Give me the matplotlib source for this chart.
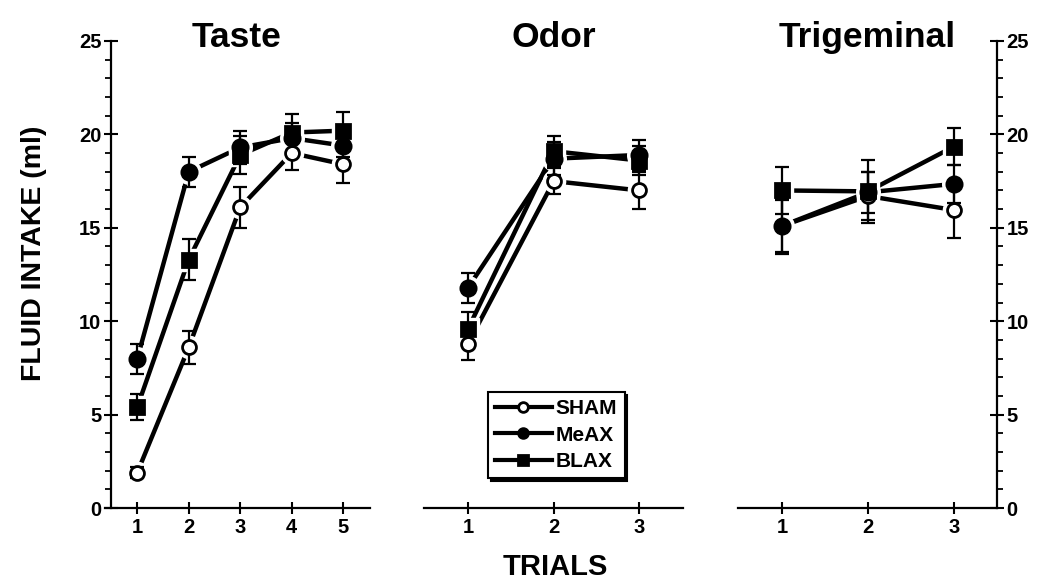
import matplotlib
matplotlib.use("Agg")
import matplotlib.pyplot as plt
from matplotlib.lines import Line2D
from matplotlib.ticker import MultipleLocator

plt.rcParams['font.family'] = ['Liberation Sans', 'DejaVu Sans']
plt.rcParams['font.weight'] = 'bold'

groups = ["SHAM", "MeAX", "BLAX"]
panels = ["Taste", "Odor", "Trigeminal"]

taste_trials = [1, 2, 3, 4, 5]
taste_sham = [1.9, 8.6, 16.1, 19.0, 18.4]
taste_sham_err = [0.3, 0.9, 1.1, 0.9, 1.0]
taste_meax = [8.0, 18.0, 19.3, 19.8, 19.4]
taste_meax_err = [0.8, 0.8, 0.9, 0.8, 0.6]
taste_blax = [5.4, 13.3, 18.9, 20.1, 20.2]
taste_blax_err = [0.7, 1.1, 1.0, 1.0, 1.0]

odor_trials = [1, 2, 3]
odor_sham = [8.8, 17.5, 17.0]
odor_sham_err = [0.9, 0.7, 1.0]
odor_meax = [11.8, 18.7, 18.9]
odor_meax_err = [0.8, 0.9, 0.8]
odor_blax = [9.6, 19.1, 18.6]
odor_blax_err = [0.9, 0.8, 0.8]

trig_trials = [1, 2, 3]
trig_sham = [15.1, 16.7, 15.95]
trig_sham_err = [1.5, 1.3, 1.5]
trig_meax = [15.1, 16.9, 17.35]
trig_meax_err = [1.4, 1.1, 1.0]
trig_blax = [17.0, 16.95, 19.35]
trig_blax_err = [1.27, 1.7, 1.0]

panel_data = [
    (taste_trials, [(taste_sham, taste_sham_err), (taste_meax, taste_meax_err), (taste_blax, taste_blax_err)]),
    (odor_trials, [(odor_sham, odor_sham_err), (odor_meax, odor_meax_err), (odor_blax, odor_blax_err)]),
    (trig_trials, [(trig_sham, trig_sham_err), (trig_meax, trig_meax_err), (trig_blax, trig_blax_err)]),
]

styles = {
    "SHAM": dict(marker='o', mfc='white', ms=10),
    "MeAX": dict(marker='o', mfc='black', ms=11),
    "BLAX": dict(marker='s', mfc='black', ms=9.5),
}

W, H = 1050, 588
fig = plt.figure(figsize=(10.5, 5.88), dpi=100)
bottom = 1 - 508 / H
top = 1 - 41 / H
axes_px = [(105, 370), (424, 683), (738, 997)]
xlims = [(0.373, 5.52), (0.485, 3.51), (0.488, 3.5)]

axes = []
for (l, r), xl, (trials, series) in zip(axes_px, xlims, panel_data):
    ax = fig.add_axes([l / W, bottom, (r - l) / W, top - bottom])
    ax.set_xlim(*xl)
    ax.set_ylim(0, 25)
    for sp in ['top', 'right', 'left']:
        ax.spines[sp].set_visible(False)
    ax.spines['bottom'].set_linewidth(1.6)
    ax.set_xticks(trials)
    ax.set_xticklabels([str(t) for t in trials])
    ax.tick_params(axis='x', direction='inout', length=9, width=1.5,
                   labelsize=14.5, pad=3)
    ax.patch.set_alpha(0)
    for g, (vals, errs) in zip(groups, series):
        st = styles[g]
        ax.plot(trials, vals, color='black', lw=3.2, zorder=2, solid_capstyle='butt')
        ax.plot(trials, vals, ls='none', marker=st['marker'], ms=st['ms'] + 6,
                mfc='white', mec='white', zorder=3)
        ax.errorbar(trials, vals, yerr=errs, fmt='none', ecolor='black',
                    elinewidth=1.6, capsize=5, capthick=1.6, zorder=4)
        ax.plot(trials, vals, ls='none', marker=st['marker'], ms=st['ms'],
                mfc=st['mfc'], mec='black', mew=2, zorder=5)
    axes.append(ax)

# y axes
for ax, side in [(axes[0], 'left'), (axes[2], 'right')]:
    ax.spines[side].set_visible(True)
    ax.spines[side].set_linewidth(1.6)
    ax.yaxis.set_major_locator(MultipleLocator(5))
    ax.yaxis.set_minor_locator(MultipleLocator(1))
axes[0].spines['left'].set_position(('data', 0.49))
axes[0].tick_params(axis='y', which='major', direction='inout', length=10, width=1.5,
                    labelsize=14.5, pad=2)
axes[0].tick_params(axis='y', which='minor', direction='out', length=4, width=1.3)
axes[2].yaxis.tick_right()
axes[2].tick_params(axis='y', which='major', direction='inout', length=10, width=1.5,
                    labelsize=14.5, pad=2, left=False, right=True)
axes[2].tick_params(axis='y', which='minor', direction='out', length=4, width=1.3,
                    left=False, right=True)
axes[1].set_yticks([])

for ax in axes:
    for lab in ax.get_xticklabels() + ax.get_yticklabels():
        lab.set_fontweight('bold')

# titles
for name, xc in zip(panels, [237, 554, 867]):
    fig.text(xc / W, 1 - 47 / H, name, ha='center', va='baseline',
             fontsize=25.5, fontweight='bold')

fig.text(34 / W, 1 - 253 / H, "FLUID INTAKE (ml)", rotation=90, ha='center',
         va='center', fontsize=20.5, fontweight='bold')
fig.text(555 / W, 1 - 567 / H, "TRIALS", ha='center', va='center',
         fontsize=21, fontweight='bold')

handles = [Line2D([0], [0], color='black', lw=3, marker=styles[g]['marker'],
                  mfc=styles[g]['mfc'], mec='black', mew=2,
                  ms=7 if g != 'BLAX' else 6.5) for g in groups]
leg = fig.legend(handles, groups, loc='upper left',
                 bbox_to_anchor=(488 / W, 1 - 392 / H),
                 frameon=True, fancybox=False, shadow={'color': 'black', 'alpha': 1},
                 handlelength=2.7, handletextpad=0.2, borderpad=0.35,
                 labelspacing=0.35, borderaxespad=0,
                 prop={'size': 15, 'weight': 'bold'})
leg.get_frame().set_edgecolor('black')
leg.get_frame().set_linewidth(1.5)
leg.get_frame().set_alpha(1)

fig.savefig("out.png", dpi=100)
